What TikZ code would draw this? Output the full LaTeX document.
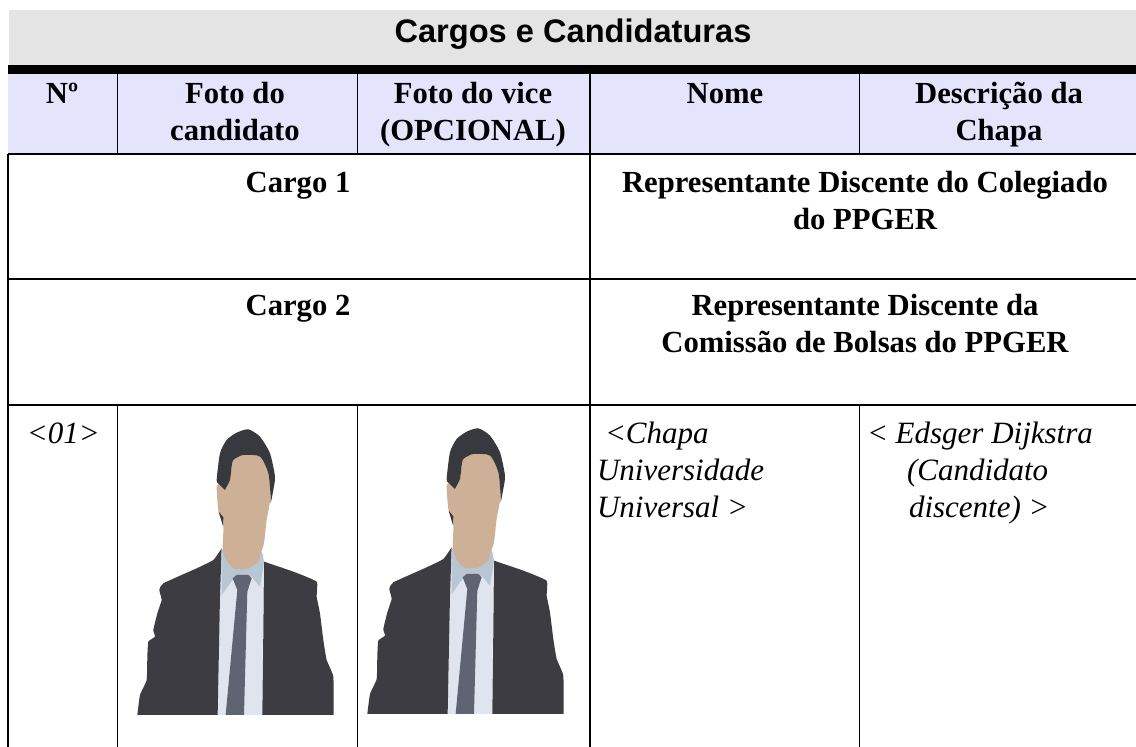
\documentclass[tikz,border=0pt]{standalone}
\usepackage{fontspec}
\setmainfont{Liberation Serif}
\newfontfamily\arialf{Liberation Sans}
\definecolor{bandgray}{HTML}{E4E4E4}
\definecolor{headfill}{HTML}{E4E4FC}
\definecolor{suitc}{HTML}{3C3C42}
\definecolor{hairc}{HTML}{38393F}
\definecolor{skinc}{HTML}{CDB096}
\definecolor{shirtc}{HTML}{DFE4EE}
\definecolor{collarc}{HTML}{B8C5D3}
\definecolor{tiec}{HTML}{5F6472}
\tikzset{
  rule/.style={line width=1.3pt,black},
  txt/.style={inner sep=0pt,outer sep=0pt,anchor=base,font=\fontsize{30.67}{36.7}\selectfont},
  head/.style={txt,font=\fontsize{30.67}{36.7}\selectfont\bfseries},
  cell/.style={txt,anchor=base west,font=\fontsize{31}{36.7}\selectfont\itshape},
  title/.style={inner sep=0pt,anchor=base,font=\fontsize{32.6}{38}\selectfont\arialf\bfseries},
  blob/.style={smooth cycle,tension=0.35}
}
\newcommand{\personfig}[2]{%
\begin{scope}[shift={(#1,#2)},x=0.3333pt,y=-0.3333pt]
  \fill[shirtc] (293,945) -- (300,590) -- (305,460) -- (430,460) -- (427,945) -- cycle;
  \fill[suitc] plot[tension=0.25,smooth] coordinates {(52,945) (60,885) (80,840) (82,770) (85,725) (105,710) (100,690) (112,640) (125,600) (118,570) (130,550) (230,505) (280,480) (305,445)} -- (300,590) -- (293,945) -- cycle;
  \fill[suitc] plot[tension=0.25,smooth] coordinates {(432,485) (520,515) (590,545) (590,590) (600,640) (610,720) (620,780) (640,830) (641,945)} -- (427,945) -- (430,700) -- cycle;
  \fill[collarc] (305,450) -- (305,585) -- (345,530) -- (395,530) -- (420,560) -- (432,485) -- (425,455) -- cycle;
  \fill[skinc] plot[blob] coordinates {(340,180) (370,165) (420,170) (445,220) (452,290) (440,360) (432,430) (420,465) (415,485) (385,505) (345,507) (322,485) (308,450) (310,380) (295,330) (290,260) (300,250) (315,270) (330,240) (335,200)};
  \fill[hairc] plot[tension=0.4,smooth] coordinates {(315,270) (295,250) (290,240) (300,160) (320,120) (350,98) (385,88) (420,110) (450,160) (465,230) (460,270) (452,310) (452,290) (445,220) (420,170) (370,165) (340,180) (335,200) (330,240) (315,270)} -- cycle;
  \fill[hairc] (296,335) -- (310,352) -- (309,378) -- cycle;
  \fill[tiec] (338,535) -- (350,525) -- (385,525) -- (395,535) -- (382,575) -- (372,945) -- (317,945) -- (352,570) -- cycle;
\end{scope}}
\begin{document}
\begin{tikzpicture}[x=1pt,y=-1pt]
\useasboundingbox[fill=white] (0,0) rectangle (1136,747);
% bands
\fill[bandgray] (9,10) rectangle (1136,65);
\fill[headfill] (8,73) rectangle (1136,154);
\fill[black] (8,65) rectangle (1136,74);
% persons
\personfig{120}{400}
\personfig{350}{399}
% rules
\draw[rule] (8,154) -- (1136,154);
\draw[rule] (8,279) -- (1136,279);
\draw[rule] (8,405) -- (1136,405);
\draw[rule] (8,154) -- (8,747);
\draw[rule] (117.5,74) -- (117.5,154);
\draw[rule] (357.5,74) -- (357.5,154);
\draw[rule] (590,74) -- (590,154);
\draw[rule] (859.5,74) -- (859.5,154);
\draw[rule] (590,154) -- (590,747);
\draw[rule] (117.5,405) -- (117.5,747);
\draw[rule] (357.5,405) -- (357.5,747);
\draw[rule] (859.5,405) -- (859.5,747);
% text
\node[title] (ttl) at (573,42) {Cargos e Candidaturas};
\node[head] (hn) at (62,103) {Nº};
\node[head] (h1a) at (235,103) {Foto do};
\node[head] (h1b) at (235,140) {candidato};
\node[head] (h2a) at (473,103) {Foto do vice};
\node[head] (h2b) at (473,140) {(OPCIONAL)};
\node[head] (h3) at (725,103) {Nome};
\node[head] (h4a) at (999,103) {Descrição da};
\node[head] (h4b) at (999,140) {Chapa};
\node[head] (c1) at (298,192) {Cargo 1};
\node[head] (r1a) at (865,192) {Representante Discente do Colegiado};
\node[head] (r1b) at (865,229) {do PPGER};
\node[head] (c2) at (298,315) {Cargo 2};
\node[head] (r2a) at (865,315) {Representante Discente da};
\node[head] (r2b) at (865,352) {Comissão de Bolsas do PPGER};
\node[cell] (n1) at (27,443) {<01>};
\node[cell] (ch1) at (605,443) {<Chapa};
\node[cell] (ch2) at (597,480) {Universidade};
\node[cell] (ch3) at (597,517) {Universal >};
\node[cell] (d1) at (867,443) {< Edsger Dijkstra};
\node[cell] (d2) at (907,480) {(Candidato};
\node[cell] (d3) at (909,517) {discente) >};
\end{tikzpicture}
\end{document}
